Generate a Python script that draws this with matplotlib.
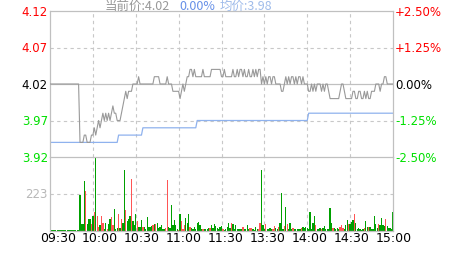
import numpy as np
import matplotlib
matplotlib.use("Agg")
import matplotlib.pyplot as plt
from matplotlib.transforms import blended_transform_factory

# ---- data ----
prev_close = 4.02
price_ticks = [4.12, 4.07, 4.02, 3.97, 3.92]
pct_labels = ["+2.50%", "+1.25%", "0.00%", "-1.25%", "-2.50%"]
time_labels = ["09:30", "10:00", "10:30", "11:00", "11:30", "13:30", "14:00", "14:30", "15:00"]
vol_mark = 223

price = [
    4.02, 4.02, 4.02, 4.02, 4.02, 4.02, 4.02, 4.02, 4.02, 4.02,
    4.02, 4.02, 4.02, 4.02, 4.02, 4.02, 4.02, 4.02, 4.02, 4.02,
    4.02, 3.94, 3.94, 3.94, 3.95, 3.95, 3.94, 3.94, 3.94, 3.95,
    3.95, 3.96, 3.95, 3.96, 3.97, 3.96, 3.97, 3.98, 3.97, 3.98,
    3.97, 3.98, 3.97, 3.98, 3.99, 3.98, 3.98, 3.97, 3.97, 3.97,
    3.98, 3.99, 4.00, 4.01, 4.00, 4.01, 4.01, 4.01, 4.02, 4.02,
    4.02, 4.02, 4.03, 4.02, 4.02, 4.02, 4.02, 4.02, 4.02, 4.02,
    4.02, 4.02, 4.02, 4.03, 4.03, 4.03, 4.03, 4.02, 4.02, 4.02,
    4.02, 4.02, 4.03, 4.02, 4.02, 4.02, 4.01, 4.01, 4.01, 4.01,
    4.01, 4.00, 4.01, 4.02, 4.01, 4.02, 4.03, 4.03, 4.04, 4.04,
    4.03, 4.04, 4.03, 4.03, 4.03, 4.03, 4.03, 4.04, 4.03, 4.03,
    4.03, 4.03, 4.03, 4.04, 4.04, 4.04, 4.04, 4.04, 4.04, 4.04,
    4.03, 4.03, 4.04, 4.03, 4.03, 4.03, 4.03, 4.03, 4.04, 4.03,
    4.03, 4.04, 4.03, 4.04, 4.04, 4.03, 4.04, 4.03, 4.03, 4.04,
    4.03, 4.03, 4.04, 4.03, 4.04, 4.03, 4.04, 4.04, 4.02, 4.03,
    4.02, 4.03, 4.02, 4.03, 4.03, 4.02, 4.03, 4.03, 4.02, 4.02,
    4.02, 4.02, 4.01, 4.01, 4.02, 4.03, 4.02, 4.03, 4.02, 4.03,
    4.03, 4.02, 4.03, 4.02, 4.03, 4.03, 4.02, 4.03, 4.02, 4.02,
    4.02, 4.01, 4.01, 4.02, 4.01, 4.02, 4.01, 4.02, 4.02, 4.02,
    4.01, 4.02, 4.01, 4.02, 4.02, 4.01, 4.00, 4.00, 4.00, 4.00,
    4.00, 4.00, 4.00, 4.01, 4.02, 4.02, 4.01, 4.00, 4.00, 4.00,
    4.00, 4.00, 4.01, 4.01, 4.00, 4.00, 4.01, 4.01, 4.00, 4.00,
    4.01, 4.00, 4.01, 4.00, 4.00, 4.01, 4.01, 4.01, 4.02, 4.02,
    4.02, 4.01, 4.02, 4.02, 4.03, 4.03, 4.02, 4.02, 4.02, 4.02,
    4.02,
]

avg_price = [3.94] * 48 + [3.95] * 17 + [3.96] * 38 + [3.97] * 78 + [3.98] * 60

volume = [
    6, 6, 6, 6, 6, 6, 6, 6, 6, 6,
    6, 6, 6, 6, 6, 6, 6, 6, 6, 6,
    6, 215, 41, 41, 302, 243, 41, 71, 71, 41,
    91, 116, 438, 91, 22, 37, 91, 51, 12, 47,
    12, 41, 71, 85, 37, 130, 12, 18, 101, 18,
    71, 51, 367, 124, 61, 71, 91, 314, 61, 36,
    105, 61, 26, 22, 65, 22, 22, 12, 87, 22,
    22, 32, 37, 45, 41, 47, 18, 26, 36, 12,
    12, 18, 308, 26, 18, 154, 36, 65, 36, 12,
    6, 101, 61, 12, 36, 77, 51, 101, 26, 18,
    12, 22, 12, 51, 57, 37, 12, 12, 12, 12,
    12, 18, 18, 36, 18, 45, 32, 18, 12, 26,
    32, 12, 6, 12, 26, 47, 18, 47, 41, 12,
    36, 12, 12, 12, 12, 26, 12, 12, 36, 12,
    18, 18, 12, 6, 22, 12, 12, 51, 367, 36,
    12, 41, 12, 12, 18, 12, 12, 28, 18, 12,
    26, 47, 229, 12, 28, 144, 45, 12, 51, 12,
    18, 12, 12, 12, 12, 12, 18, 22, 18, 22,
    18, 12, 116, 12, 51, 91, 37, 12, 12, 18,
    12, 18, 32, 12, 12, 12, 136, 47, 18, 18,
    12, 18, 12, 26, 37, 18, 12, 36, 65, 45,
    41, 57, 65, 101, 47, 12, 18, 12, 6, 12,
    18, 61, 22, 26, 22, 12, 12, 89, 41, 18,
    41, 36, 77, 36, 32, 71, 32, 18, 18, 12,
    116,
]

# r = up minute, g = down/flat minute
vol_dir = ("gggggggggg" "gggggggggg" "gggggrgggr" "grgrrgrrgg" "rggrrgggrg"
           "rggrgggrgg" "grgggrgggg" "ggrgrggggg" "grrggggggg" "rgrrrgggrg"
           "gggggggrgg" "ggrggggggg" "grgggggrgg" "gggggrgggg" "rrggggrrgg"
           "grggggrrgg" "rgggrgrggg" "rgggggrggg" "ggggggrggg" "rgggggggrg"
           "gggrrrgggr" "gggrgggggg" "rggrgggggg" "rggggrgggg" "g")

# ---- figure ----
W, H = 463, 255
fig = plt.figure(figsize=(W / 100, H / 100), dpi=100)
fig.patch.set_facecolor("white")

L, R = 50, 393
top, mid, bot = 12, 158, 232
ax = fig.add_axes([L / W, 1 - mid / H, (R - L) / W, (mid - top) / H])
axv = fig.add_axes([L / W, 1 - bot / H, (R - L) / W, (bot - mid) / H])

grid_c = "#c8c8c8"
frame_c = "#c0c0c0"
n_min = 240

for a in (ax, axv):
    a.set_xlim(0, n_min)
    a.set_xticks([])
    a.set_yticks([])
    for s in a.spines.values():
        s.set_color(frame_c)
        s.set_linewidth(0.9)
    for k in range(1, 8):
        a.axvline(k * 30, color=grid_c, lw=0.8, ls=(0, (3, 3)), zorder=0)

ax.set_ylim(price_ticks[-1], price_ticks[0])
ax.spines["bottom"].set_visible(False)
for p in price_ticks[1:-1]:
    if p == prev_close:
        ax.axhline(p, color=frame_c, lw=0.9, zorder=1)
    else:
        ax.axhline(p, color=grid_c, lw=0.8, ls=(0, (3, 3)), zorder=0)

xs = np.arange(len(price))
ax.plot(xs, price, color="#999999", lw=0.8, zorder=3)
ax.plot(np.arange(len(avg_price)), avg_price, color="#8fb2ee", lw=0.9, zorder=2)

axv.set_ylim(0, 2 * vol_mark)
axv.axhline(vol_mark, color=grid_c, lw=0.8, ls=(0, (3, 3)), zorder=0)
bar_cols = ["#ff5555" if d == "r" else "#00a000" for d in vol_dir]
axv.bar(np.arange(len(volume)), volume, width=0.9,
        color=bar_cols[:len(volume)], linewidth=0, zorder=2, antialiased=False)

# left / right labels
tl = blended_transform_factory(ax.transAxes, ax.transData)
lab_cols = ["#ff0000", "#ff0000", "#000000", "#00e000", "#00e000"]
for p, pc, c in zip(price_ticks, pct_labels, lab_cols):
    ax.text(-0.006, p, f"{p:.2f}", transform=tl, ha="right", va="center",
            fontsize=8.5, color=c, clip_on=False)
    ax.text(1.006, p, pc, transform=tl, ha="left", va="center",
            fontsize=8.5, color=c, clip_on=False)

tv = blended_transform_factory(axv.transAxes, axv.transData)
axv.text(-0.006, vol_mark, str(vol_mark), transform=tv, ha="right", va="center",
         fontsize=8.5, color="#b8b8b8")

# time labels
for k, t in enumerate(time_labels):
    fig.text((58 + 42 * k) / W, 1 - 239 / H, t, ha="center", va="center",
             fontsize=9, color="#000000")

# header
cjk = ["Noto Sans CJK SC", "DejaVu Sans"]
header = [("当前价:4.02", "#999999", 105), ("0.00%", "#6690e8", 179), ("均价:3.98", "#a0bcea", 220)]
for txt, c, x0 in header:
    fig.text(x0 / W, 1 - 9.5 / H, txt, ha="left", va="baseline",
             fontsize=9, color=c, family=cjk)

fig.savefig("out.png", dpi=100, facecolor="white")
